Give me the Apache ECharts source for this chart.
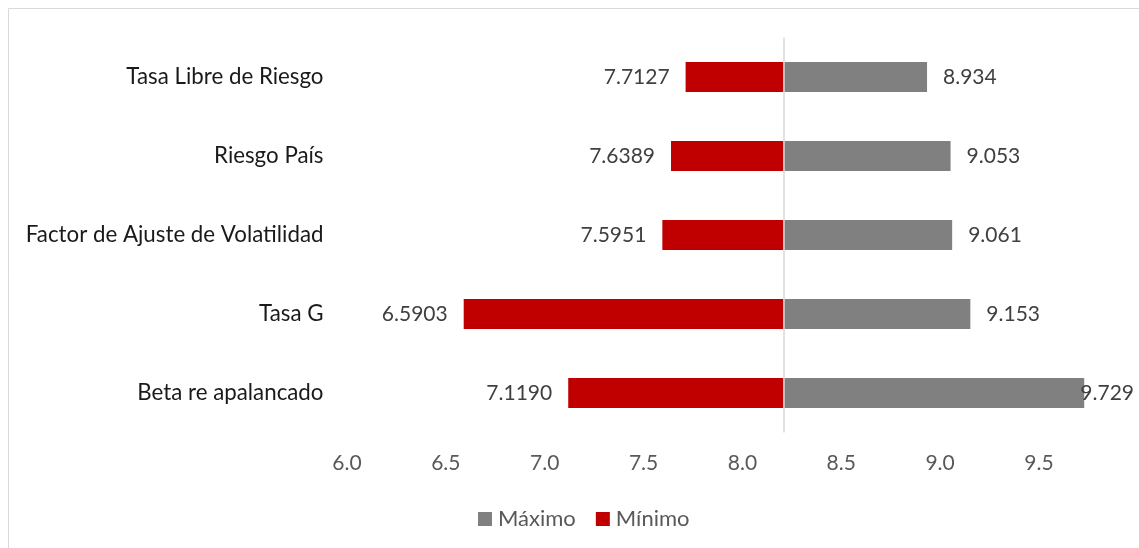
<!DOCTYPE html>
<html>
<head>
<meta charset="utf-8">
<script src="https://cdn.jsdelivr.net/npm/echarts@6/dist/echarts.min.js"></script>
<style>
  html, body { margin: 0; padding: 0; background: #fff; }
  #chart { width: 1139px; height: 548px; }
</style>
</head>
<body>
<div id="chart"></div>
<script>
// Tornado chart: sensitivity of the valuation to each driver
const categories = [
  'Tasa Libre de Riesgo',
  'Riesgo País',
  'Factor de Ajuste de Volatilidad',
  'Tasa G',
  'Beta re apalancado'
];
const minValues = [7.7127, 7.6389, 7.5951, 6.5903, 7.1190];
const maxValues = [8.934, 9.053, 9.061, 9.153, 9.729];
const baseValue = 8.207;
const axisTicks = [6.0, 6.5, 7.0, 7.5, 8.0, 8.5, 9.0, 9.5, 10.0];

const FONT = 'Lato';
const VALUE_SIZE = 21;
const RED = '#C00000';
const GREY = '#808080';
const RIGHT_LIMIT = 1134;

const measureCtx = document.createElement('canvas').getContext('2d');
function textWidth(str, size) {
  measureCtx.font = size + 'px ' + FONT;
  return measureCtx.measureText(str).width;
}

function makeRenderer(color, decimals, side) {
  return function (params, api) {
    const cat = api.value(0);
    const val = api.value(1);
    const pBase = api.coord([baseValue, cat]);
    const pVal = api.coord([val, cat]);
    const band = api.size([0, 1])[1];
    const h = band * 0.38;
    const x0 = Math.min(pBase[0], pVal[0]);
    const x1 = Math.max(pBase[0], pVal[0]);
    const label = val.toFixed(decimals);
    let tx, align;
    if (side === 'left') {
      tx = x0 - 16;
      align = 'right';
    } else {
      const w = textWidth(label, VALUE_SIZE);
      tx = Math.min(x1 + 16, RIGHT_LIMIT - w);
      align = 'left';
    }
    return {
      type: 'group',
      children: [
        {
          type: 'rect',
          shape: { x: x0, y: pBase[1] - h / 2, width: x1 - x0, height: h },
          style: { fill: color }
        },
        {
          type: 'text',
          z2: 20,
          style: {
            x: tx, y: pBase[1],
            text: label,
            fill: '#404040',
            fontSize: VALUE_SIZE,
            fontFamily: FONT,
            align: align,
            verticalAlign: 'middle'
          }
        }
      ]
    };
  };
}

const maxData = maxValues.map((v, i) => [i, v]);
const minData = minValues.map((v, i) => [i, v]);

const chart = echarts.init(document.getElementById('chart'), null, { renderer: 'canvas' });
chart.setOption({
  animation: false,
  backgroundColor: '#ffffff',
  graphic: [{
    type: 'rect',
    silent: true,
    shape: { x: 8.5, y: 8.5, width: 1200, height: 600 },
    style: { fill: 'none', stroke: '#d9d9d9', lineWidth: 1 }
  }],
  grid: { left: 347, right: 1.2, top: 37.5, bottom: 115.5, containLabel: false },
  legend: {
    left: 473,
    top: 503,
    icon: 'rect',
    itemWidth: 14,
    itemHeight: 14,
    itemGap: 20,
    textStyle: { color: '#595959', fontSize: 22, fontFamily: FONT, padding: [0, 0, 0, 1] },
    data: ['Máximo', 'Mínimo']
  },
  xAxis: {
    type: 'value',
    min: axisTicks[0],
    max: axisTicks[axisTicks.length - 1],
    interval: 0.5,
    axisLine: { show: false },
    axisTick: { show: false },
    splitLine: { show: false },
    axisLabel: {
      showMaxLabel: false,
      margin: 19,
      color: '#595959',
      fontSize: 21,
      lineHeight: 24,
      fontFamily: FONT,
      formatter: v => v.toFixed(1)
    }
  },
  yAxis: {
    type: 'category',
    inverse: true,
    data: categories,
    axisLine: { show: false },
    axisTick: { show: false },
    splitLine: { show: false },
    axisLabel: {
      margin: 23.5,
      color: '#1a1a1a',
      fontSize: 22.3,
      fontFamily: FONT
    }
  },
  series: [
    {
      name: 'Máximo',
      type: 'custom',
      itemStyle: { color: GREY },
      renderItem: makeRenderer(GREY, 3, 'right'),
      encode: { x: 1, y: 0 },
      data: maxData,
      z: 2
    },
    {
      name: 'Mínimo',
      type: 'custom',
      itemStyle: { color: RED },
      renderItem: makeRenderer(RED, 4, 'left'),
      encode: { x: 1, y: 0 },
      data: minData,
      z: 2,
      markLine: {
        silent: true,
        symbol: 'none',
        z: 10,
        label: { show: false },
        lineStyle: { color: '#d9d9d9', width: 1.5, type: 'solid' },
        data: [{ xAxis: baseValue }]
      }
    }
  ]
});
</script>
</body>
</html>
